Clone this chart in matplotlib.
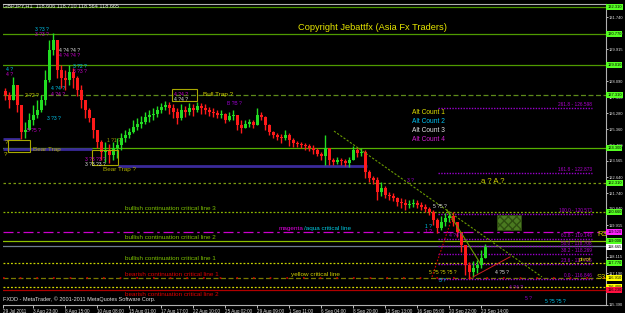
import matplotlib.pyplot as plt
from matplotlib.patches import Rectangle
import numpy as np

plt.rcParams['font.family'] = ['Liberation Sans', 'DejaVu Sans']

# GBPJPY H1, resampled reading of the candles (close/high/low)
close = [127.31, 127.02, 127.88, 126.74, 125.21, 125.32, 125.89, 126.17, 126.46, 127.02,
         128.16, 129.87, 130.43, 128.73, 128.27, 128.16, 128.62, 128.27, 127.59, 127.02,
         126.46, 126.00, 125.32, 124.64, 124.07, 124.18, 123.90, 124.30, 124.47, 124.87,
         125.04, 125.21, 125.49, 125.66, 125.77, 126.06, 126.17, 126.23, 126.46, 126.63,
         126.74, 126.57, 126.34, 126.00, 126.46, 126.34, 126.57, 126.46, 126.68, 126.57,
         126.46, 126.34, 126.29, 126.17, 126.23, 125.89, 126.12, 126.17, 125.60, 125.43,
         125.66, 125.77, 125.60, 126.17, 126.06, 125.60, 125.21, 125.04, 124.92, 124.87,
         125.04, 124.75, 124.58, 124.52, 124.47, 124.41, 124.30, 124.18, 123.96, 123.84,
         124.30, 123.62, 123.50, 123.62, 123.56, 123.44, 123.62, 124.18, 124.01, 124.07,
         122.93, 122.59, 122.48, 121.80, 122.02, 121.63, 121.57, 121.46, 121.23, 121.17,
         121.06, 121.11, 121.17, 121.06, 120.94, 120.83, 120.66, 120.21, 119.75, 120.09,
         120.32, 120.43, 120.09, 119.52, 118.79, 117.65, 117.25, 117.48, 117.65, 118.05,
         118.67]
high = [127.71, 127.48, 128.33, 127.59, 126.74, 125.77, 126.29, 126.74, 127.02, 127.31,
        128.73, 130.43, 130.83, 130.43, 129.01, 128.73, 129.01, 128.84, 128.39, 127.88,
        127.02, 126.57, 126.00, 125.21, 124.75, 124.64, 124.52, 124.64, 124.87, 125.15,
        125.32, 125.43, 125.89, 126.00, 126.12, 126.34, 126.46, 126.57, 126.68, 126.85,
        126.97, 126.91, 126.80, 126.57, 126.80, 126.68, 126.85, 126.80, 126.91, 126.85,
        126.80, 126.63, 126.57, 126.46, 126.46, 126.29, 126.34, 126.46, 126.00, 125.89,
        125.89, 125.94, 125.89, 126.57, 126.34, 126.12, 125.66, 125.26, 125.15, 125.09,
        125.32, 125.15, 124.87, 124.69, 124.64, 124.58, 124.52, 124.47, 124.30, 124.07,
        125.04, 124.18, 123.73, 123.79, 123.73, 123.67, 123.79, 124.41, 124.30, 124.30,
        124.18, 123.05, 122.71, 122.65, 122.37, 122.14, 121.80, 121.74, 121.51, 121.46,
        121.40, 121.34, 121.40, 121.34, 121.23, 121.11, 120.94, 120.77, 120.32, 120.43,
        120.60, 120.66, 120.66, 120.09, 119.52, 118.62, 117.82, 117.88, 117.93, 118.50,
        118.84]
low = [127.02, 126.57, 127.02, 126.34, 124.81, 124.87, 125.32, 125.60, 126.00, 126.34,
       126.74, 128.05, 129.58, 128.27, 127.71, 127.59, 127.88, 127.71, 127.25, 126.57,
       126.00, 125.77, 124.87, 124.30, 123.62, 123.50, 123.44, 123.62, 123.73, 124.18,
       124.64, 124.87, 125.15, 125.32, 125.43, 125.66, 125.77, 125.89, 126.06, 126.29,
       126.46, 126.23, 126.00, 125.66, 125.89, 126.06, 126.17, 126.12, 126.34, 126.23,
       126.23, 126.12, 126.06, 126.00, 126.00, 125.72, 125.83, 125.89, 125.32, 125.15,
       125.43, 125.49, 125.43, 125.66, 125.89, 125.32, 125.04, 124.87, 124.75, 124.58,
       124.75, 124.41, 124.35, 124.35, 124.30, 124.18, 124.13, 123.96, 123.84, 123.62,
       123.33, 123.33, 123.33, 123.39, 123.33, 123.27, 123.22, 123.73, 123.79, 123.84,
       122.59, 122.37, 122.25, 121.34, 121.57, 121.46, 121.34, 121.29, 121.00, 120.89,
       120.77, 120.89, 120.94, 120.89, 120.77, 120.66, 120.49, 119.92, 119.47, 119.64,
       119.86, 120.09, 119.86, 119.24, 118.39, 117.08, 116.85, 116.97, 117.19, 117.48,
       118.05]
first_open = 127.50

time_labels = ["29 Jul 2011", "3 Aug 23:00", "8 Aug 15:00", "10 Aug 08:00", "15 Aug 01:00",
               "17 Aug 17:00", "22 Aug 10:00", "25 Aug 02:00", "29 Aug 09:00", "1 Sep 11:00",
               "6 Sep 04:00", "8 Sep 20:00", "13 Sep 13:00", "16 Sep 05:00", "20 Sep 22:00",
               "23 Sep 14:00"]
price_ticks = [131.740, 130.830, 129.915, 129.005, 128.090, 127.190, 126.280, 125.360,
               124.460, 123.565, 122.640, 121.740, 120.840, 119.915, 119.015, 118.115,
               117.190, 116.290, 115.390]

# horizontal critical lines
level_prices = [132.31, 130.77, 129.01, 127.31, 124.30, 122.31, 120.66, 119.52, 119.00,
                118.73, 117.77, 116.91, 116.40, 116.23]
# fibonacci projection
fib_levels = [0.0, 23.6, 38.2, 50.0, 61.8, 100.0, 161.8, 261.8, 423.6]
fib_prices = [116.846, 117.725, 118.269, 118.708, 119.148, 120.571, 122.873, 126.598, 132.625]
last_price = 118.665

opens = [first_open] + close[:-1]
x = np.arange(len(close))

fig = plt.figure(figsize=(6.25, 3.13), dpi=100, facecolor='black')
ax = fig.add_axes([3/625, 8/313, 603/625, 301/313])
ax.set_facecolor('black')
ax.set_xlim(-0.5, 150.25)
ax.set_ylim(115.376, 132.48)

# level lines
lv_col = ['#4f9a00', '#4f9a00', '#4f9a00', '#5d8a1a', '#55b000', '#7a9a10', '#8cb800',
          '#cc00cc', '#8cc000', '#6e7b8b', '#c8d400', '#7a7a00', '#d8d800', '#b00000']
lv_ls = ['-', '-', '-', (0, (4, 2)), '-', (0, (2, 2)), (0, (1.5, 1.5)), (0, (8, 3, 2, 3)),
         '-', '-', (0, (1.5, 1.5)), (0, (4, 2)), (0, (1.5, 1.5)), '-']
for p, c, s in zip(level_prices, lv_col, lv_ls):
    ax.axhline(p, color=c, ls=s, lw=0.9, zorder=1)
ax.axhline(level_prices[11], color='#cc0000', ls=(0, (1, 9)), lw=1.2, zorder=1)

# trap lines
ax.hlines([124.81, 124.24], -0.5, [3.75, 21.75], color='#3a2a9a', lw=2, zorder=1)
ax.hlines(123.27, 28.25, 90.5, color='#3a2a9a', lw=2, zorder=1)

# fib lines
for lvl, p in zip(fib_levels, fib_prices):
    ax.hlines(p, 108.25, 146.75, color='#9900cc', ls=(0, (1, 1)), lw=1, zorder=2)
    if lvl < 400:
        ax.text(146.75, p + 0.04, f"{lvl:.1f} - {p:.3f}", color='#b000d0', fontsize=3.4,
                ha='right', va='bottom', zorder=5)

# candles
for i in x:
    o, c = opens[i], close[i]
    col = '#22dd22' if c >= o else '#ff1a1a'
    ax.vlines(i, min(low[i], o, c), max(high[i], o, c), color=col, lw=1.0, zorder=3)
    ax.bar(i, abs(c - o) + 0.02, bottom=min(o, c), width=0.75, color=col, zorder=3, lw=0)

# trendlines
ax.plot([82.25, 134.25], [125.26, 116.97], color='#6a9a00', ls=(0, (2, 1.5)), lw=0.8, zorder=4)
ax.plot([110.5, 118.75], [120.77, 117.76], color='#6a9a00', lw=0.8, zorder=4)
ax.plot([106.75, 111.75], [116.97, 120.32], color='#cc0000', ls=(0, (1.5, 1.5)), lw=0.8, zorder=4)
ax.plot([117, 126.25], [116.97, 118.11], color='#cc2020', lw=0.7, zorder=4)

# boxes
for bx, by, bw, bh in [(0.75, 124.07, 5.5, 0.68), (21.75, 123.33, 6.5, 0.85), (41.75, 126.97, 6.25, 0.68)]:
    ax.add_patch(Rectangle((bx, by), bw, bh, fill=False, ec='#a8a800', lw=0.8, zorder=5))
ax.add_patch(Rectangle((123, 119.64), 6, 0.85, fc='#4a7a20', ec='#2e4d10', hatch='xxxx', lw=0.5, zorder=5))

tx = dict(fontsize=4.6, zorder=6)
ax.text(7, 124.2, "Bear Trap", color='#b0b000', va='center', **tx)
ax.text(24.5, 123.1, "Bear Trap ?", color='#b0b000', va='center', **tx)
ax.text(49.5, 127.36, "Bull Trap ?", color='#d0d000', va='center', **tx)
ax.text(0, 124.6, "?", color='#d0d000', va='center', **tx)
ax.text(-0.2, 123.9, "?", color='#d0d000', va='center', **tx)
ax.text(119, 122.4, "a ? A ?", color='#d0d000', fontsize=5.5, va='center', zorder=6)
ax.text(148, 119.4, "R3", color='#d0d000', fontsize=5.5, va='center', ha='left', zorder=6)
ax.text(143.5, 117.95, "pivot", color='#d0d000', fontsize=4.3, va='center', zorder=6)
ax.text(148, 116.95, "S3", color='#d0d000', fontsize=5.5, va='center', ha='left', zorder=6)

# alt count legend
for j, (lab, c) in enumerate([("Alt Count 1", '#e0e000'), ("Alt Count 2", '#00c0f0'),
                              ("Alt Count 3", '#e0e0e0'), ("Alt Count 4", '#d020d0')]):
    ax.text(101.75, 126.29 - 0.51 * j, lab, color=c, fontsize=4.8, va='center', zorder=6)

# line captions
cap = dict(fontsize=4.6, va='bottom', zorder=6)
ax.text(30, level_prices[6] + 0.08, "bullish continuation critical line 3", color='#7cc000', **cap)
ax.text(30, level_prices[8] + 0.08, "bullish continuation critical line 2", color='#7cc000', **cap)
ax.text(30, level_prices[10] + 0.08, "bullish continuation critical line 1", color='#7cc000', **cap)
ax.text(30, level_prices[11] + 0.08, "bearish continuation critical line 1", color='#dd0000', **cap)
ax.text(30, level_prices[13] - 0.1, "bearish continuation critical line 2", color='#dd0000',
        fontsize=4.6, va='top', zorder=6)
ax.text(71.5, level_prices[11] + 0.08, "yellow critical line", color='#d0d000', **cap)
ax.text(68.5, level_prices[7] + 0.08, "magenta", color='#e000e0', **cap)
ax.text(74.7, level_prices[7] + 0.08, "/aqua critical line", color='#00c8e0', **cap)

# wave count labels
waves = [("4 ?", 0.3, 128.75, '#00c8f0'), ("4 ?", 0.3, 128.45, '#cc00cc'),
         ("3 ?3 ?", 7.5, 131.05, '#00c8f0'), ("3 ?3 ?", 7.5, 130.75, '#cc00cc'),
         ("4 ?4 ?4 ?", 13.5, 129.85, '#e0e0e0'), ("4 ?4 ?4 ?", 13.5, 129.55, '#cc00cc'),
         ("3 ?2 ?", 17, 128.95, '#00c8f0'), ("3 ?3 ?", 17, 128.65, '#cc00cc'),
         ("4 ?4 ?", 11.5, 127.65, '#00c8f0'), ("4 ?4 ?", 11.5, 127.35, '#cc00cc'),
         ("2 ?2 ?", 5, 127.3, '#d0d000'), ("3 ?3 ?", 10.5, 125.95, '#00c8f0'),
         ("5 ?5 ?", 5.5, 125.3, '#cc00cc'), ("3 ?3 ?3 ?", 20, 123.65, '#cc00cc'),
         ("3 ?3 ?3 ?", 20, 123.35, '#e0e0e0'), ("4 ?4 ?", 42.3, 127.35, '#cc00cc'),
         ("4 ?4 ?", 42.3, 127.05, '#e0e0e0'), ("B ?B ?", 55.5, 126.8, '#9900cc'),
         ("1 ?1 ?", 25.5, 124.75, '#a0a000'), ("3 ?", 100.5, 122.45, '#9900cc'),
         ("5 ?5 ?", 107, 120.95, '#e0e0e0'), ("1 ?", 105, 119.85, '#00c8f0'),
         ("1 ?", 105, 119.55, '#cc00cc'), ("4 ?4 ?", 111, 119.35, '#9900cc'),
         ("5 ?5 ?5 ?5 ?", 106, 117.25, '#d0d000'), ("3 ?", 108.5, 116.75, '#00c8f0'),
         ("4 ?5 ?", 122.5, 117.25, '#e0e0e0'), ("4 ?4 ?", 126, 116.35, '#9900cc'),
         ("5 ?", 130, 115.75, '#9900cc'), ("5 ?5 ?5 ?", 135, 115.55, '#00c8f0')]
for t, wx, wy, c in waves:
    ax.text(wx, wy, t, color=c, fontsize=3.6, va='center', zorder=6)

# axes styling
ax.spines['left'].set_visible(False)
for s in ['top', 'bottom', 'right']:
    ax.spines[s].set_color('#b0b0b0')
    ax.spines[s].set_linewidth(0.8)
ax.yaxis.tick_right()
ax.set_yticks(price_ticks)
ax.set_yticklabels([f"{p:.3f}" for p in price_ticks])
ax.set_xticks([max(8 * k - 1, -0.5) for k in range(len(time_labels))])
ax.set_xticklabels(time_labels, ha='left')
ax.tick_params(colors='#e0e0e0', labelsize=3.3, length=2, width=0.6, pad=1)
ax.tick_params(axis='y', labelsize=2.9, length=1.5, pad=0.6)

# right side price boxes
box_col = ['#55ff22'] * 7 + ['#ff22ff', '#55ff22', '#55ff22', '#55ff22', '#ffff00', '#ffff00', '#ff1040']
for p, c in zip(level_prices, box_col):
    ax.text(1.002, p, f"{p:.3f}", transform=ax.get_yaxis_transform(), color='black',
            fontsize=2.9, va='center', ha='left', zorder=7, clip_on=False,
            bbox=dict(boxstyle='square,pad=0.2', fc=c, ec='none'))
ax.text(1.002, last_price, f"{last_price:.3f}", transform=ax.get_yaxis_transform(),
        color='black', fontsize=2.9, va='center', ha='left', zorder=8, clip_on=False,
        bbox=dict(boxstyle='square,pad=0.2', fc='white', ec='none'))

fig.text(3/625, 1 - 6/313, "GBPJPY,H1  118.606 118.710 118.564 118.665", color='#e0e0e0',
         fontsize=4.0, va='center')
fig.text(372/625, 1 - 28/313, "Copyright Jebattfx (Asia Fx Traders)", color='#e6e600',
         fontsize=6.7, ha='center', va='center')
fig.text(3/625, 1 - 299/313, "FXDD - MetaTrader, \u00a9 2001-2011 MetaQuotes Software Corp.",
         color='#e0e0e0', fontsize=4.0, va='center')

fig.savefig('out.png', dpi=100, facecolor='black')
